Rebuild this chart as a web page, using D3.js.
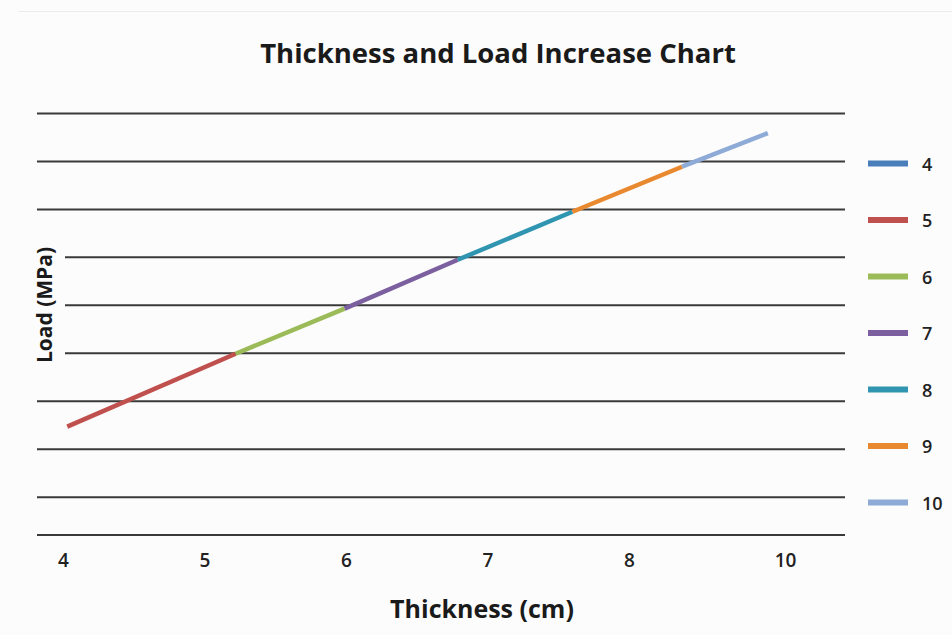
<!DOCTYPE html>
<html>
<head>
<meta charset="utf-8">
<script src="https://cdn.jsdelivr.net/npm/d3@7/dist/d3.min.js"></script>
<style>
  html, body { margin: 0; padding: 0; background: #fcfcfc; }
  svg { display: block; }
</style>
</head>
<body>
<svg id="chart" width="952" height="635"></svg>
<script>
// ---- data ----
const seriesNames = ["4", "5", "6", "7", "8", "9", "10"];
const seriesColors = ["#4a7ebb", "#c0504d", "#9bbb59", "#7b5f9e", "#2f95b0", "#e8892f", "#8eaad6"];
// breakpoints of the rising line (thickness, load)
const thickness = [4.03, 5.22, 5.99, 6.79, 7.60, 8.68, 9.78];
const load      = [24.6, 39.8, 49.2, 59.4, 69.4, 78.8, 85.8];
// series owning the segment between breakpoint i and i+1
const segmentSeries = ["5", "6", "7", "8", "9", "10"];
const xTickValues = [4, 5, 6, 7, 8, 10];
const xTickLabels = ["4", "5", "6", "7", "8", "10"];
const yGridValues = [10, 20, 30, 40, 50, 60, 70, 80, 90];
const yDomain = [2, 90];
const xBreaks = [4, 8, 10];

const svg = d3.select("#chart");
const W = 952, H = 635;

// faint frame line at top
svg.append("line").attr("x1", 18).attr("x2", W).attr("y1", 11.5).attr("y2", 11.5)
  .attr("stroke", "#ececec").attr("stroke-width", 1);

const plot = { left: 37, right: 845, top: 113, bottom: 535 };

const x = d3.scaleLinear().domain(xBreaks).range([63, 629, 785]);
const y = d3.scaleLinear().domain(yDomain).range([plot.bottom, plot.top]);
const color = d3.scaleOrdinal().domain(seriesNames).range(seriesColors);

// gridlines
const grid = d3.axisLeft(y).tickValues(yGridValues).tickSize(-(plot.right - plot.left)).tickFormat("");
const gg = svg.append("g").attr("transform", `translate(${plot.left},0)`).call(grid);
gg.select(".domain").remove();
gg.selectAll(".tick line").attr("stroke", "#3a3a3a").attr("stroke-width", 2);

// x axis
const xAxis = d3.axisBottom(x).tickValues(xTickValues).tickSize(0).tickPadding(19)
  .tickFormat((d, i) => xTickLabels[i]);
const xg = svg.append("g").attr("transform", `translate(0,${plot.bottom})`).call(xAxis);
xg.select(".domain").remove();
xg.append("line").attr("x1", plot.left).attr("x2", plot.right).attr("y1", 0).attr("y2", 0)
  .attr("stroke", "#3a3a3a").attr("stroke-width", 2);
xg.selectAll(".tick text").attr("font-family", "'Open Sans', sans-serif")
  .attr("font-size", 19).attr("font-weight", 600).attr("fill", "#222");

// segments
const pts = thickness.map((t, i) => [t, load[i]]);
const line = d3.line().x(d => x(d[0])).y(d => y(d[1]));
const segs = segmentSeries.map((s, i) => ({ name: s, pts: [pts[i], pts[i + 1]] }));
svg.append("g").selectAll("path").data(segs).join("path")
  .attr("d", d => line(d.pts))
  .attr("fill", "none")
  .attr("stroke", d => color(d.name))
  .attr("stroke-width", 4.5)
  .attr("stroke-linecap", "butt");

// title
svg.append("text").attr("x", 498).attr("y", 63).attr("text-anchor", "middle")
  .attr("font-family", "'Open Sans', sans-serif").attr("font-weight", 700)
  .attr("font-size", 27.5).attr("fill", "#1a1a1a")
  .text("Thickness and Load Increase Chart");

// axis titles
svg.append("text").attr("x", 482).attr("y", 618).attr("text-anchor", "middle")
  .attr("font-family", "'Open Sans', sans-serif").attr("font-weight", 700)
  .attr("font-size", 25).attr("fill", "#1a1a1a")
  .text("Thickness (cm)");
// background box behind y title (hides gridlines there, as in the reference)
svg.append("rect").attr("x", 36).attr("y", 228).attr("width", 29).attr("height", 152)
  .attr("fill", "#fcfcfc");
svg.append("text").attr("transform", "translate(52,305) rotate(-90)").attr("text-anchor", "middle")
  .attr("font-family", "'Open Sans', sans-serif").attr("font-weight", 700)
  .attr("font-size", 21).attr("fill", "#1a1a1a")
  .text("Load (MPa)");

// legend
const lg = svg.append("g").selectAll("g").data(seriesNames).join("g")
  .attr("transform", (d, i) => `translate(868,${163.5 + i * 56.5})`);
lg.append("rect").attr("x", 0).attr("y", -3).attr("width", 40).attr("height", 6)
  .attr("fill", d => color(d));
lg.append("text").attr("x", 54).attr("y", 7)
  .attr("font-family", "'Open Sans', sans-serif").attr("font-size", 18).attr("font-weight", 600)
  .attr("fill", "#222").text(d => d);
</script>
</body>
</html>
